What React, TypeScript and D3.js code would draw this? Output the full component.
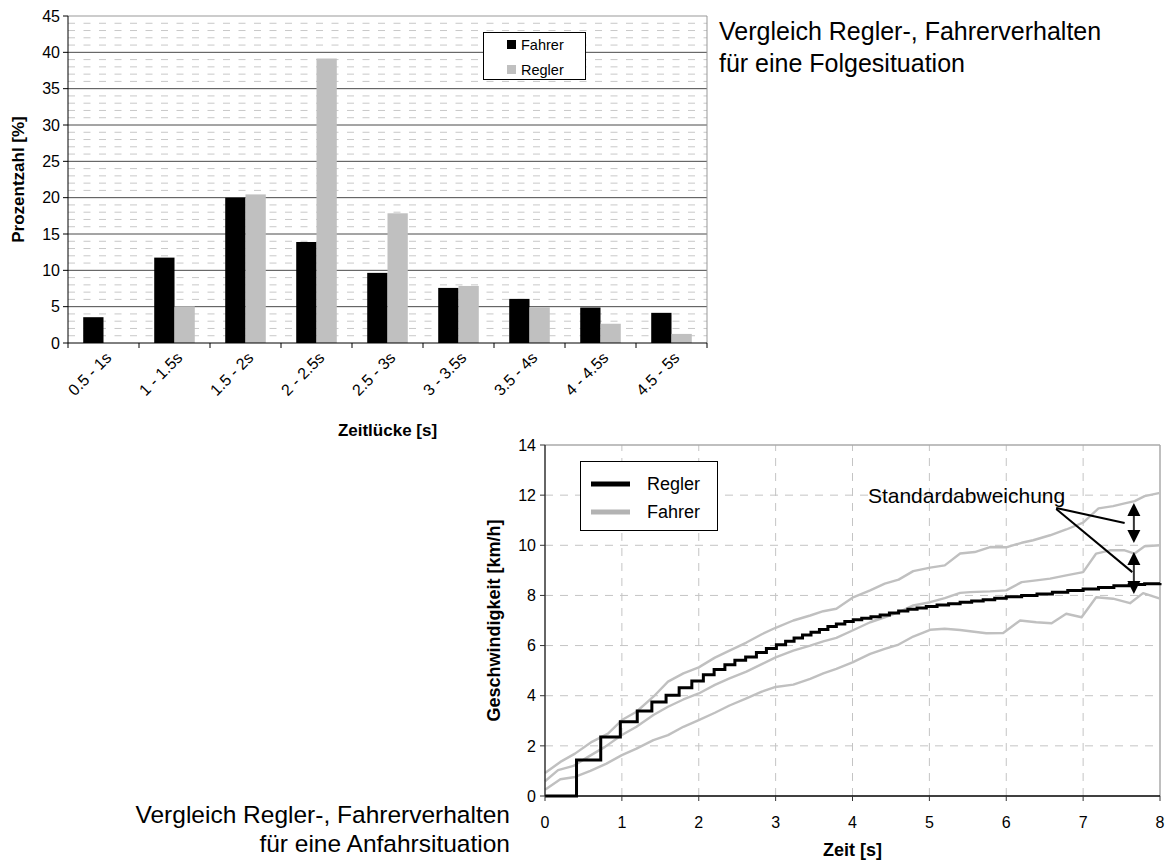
import React from 'react';
import * as d3 from 'd3';

// --- oberes Diagramm: Zeitlücken-Verteilung ---
const categories = ['0.5 - 1s', '1 - 1.5s', '1.5 - 2s', '2 - 2.5s', '2.5 - 3s', '3 - 3.5s', '3.5 - 4s', '4 - 4.5s', '4.5 - 5s'];
const fahrerPct = [3.55, 11.75, 20.0, 13.9, 9.65, 7.58, 6.07, 4.88, 4.15];
const reglerPct = [0, 5.05, 20.45, 39.15, 17.85, 7.85, 4.93, 2.65, 1.25];
const pctTicks = [0, 5, 10, 15, 20, 25, 30, 35, 40, 45];

// --- unteres Diagramm: Anfahrsituation, [Zeit s, Geschwindigkeit km/h] ---
const reglerSpeed: [number, number][] = [
  [0, 0], [0.41, 1.44], [0.725, 2.35], [0.98, 2.96], [1.2, 3.39], [1.39, 3.75], [1.575, 4.02],
  [1.745, 4.32], [1.91, 4.59], [2.06, 4.84], [2.2, 5.05], [2.34, 5.24], [2.47, 5.41], [2.61, 5.54],
  [2.75, 5.72], [2.88, 5.88], [3.01, 6.03], [3.13, 6.17], [3.24, 6.3], [3.35, 6.42], [3.46, 6.53],
  [3.57, 6.64], [3.68, 6.76], [3.79, 6.86], [3.9, 6.96], [4.01, 7.03], [4.12, 7.09], [4.24, 7.15],
  [4.36, 7.22], [4.48, 7.3], [4.6, 7.38], [4.72, 7.45], [4.84, 7.5], [4.96, 7.56], [5.1, 7.62],
  [5.25, 7.67], [5.4, 7.73], [5.55, 7.78], [5.7, 7.83], [5.85, 7.89], [6.0, 7.95], [6.2, 8.0],
  [6.4, 8.06], [6.6, 8.13], [6.8, 8.2], [7.0, 8.26], [7.2, 8.32], [7.4, 8.39], [7.6, 8.44],
  [7.8, 8.47], [8.0, 8.5],
];
const fahrerUpper: [number, number][] = [
  [0, 0.92], [0.2, 1.36], [0.39, 1.69], [0.61, 2.16], [0.82, 2.49], [1.0, 3.03], [1.19, 3.36],
  [1.41, 3.96], [1.6, 4.56], [1.8, 4.89], [2.0, 5.13], [2.21, 5.52], [2.4, 5.8], [2.62, 6.12],
  [2.82, 6.45], [3.0, 6.71], [3.23, 7.0], [3.45, 7.2], [3.62, 7.37], [3.79, 7.47], [4.0, 7.91],
  [4.23, 8.2], [4.42, 8.47], [4.6, 8.63], [4.79, 8.97], [5.01, 9.11], [5.2, 9.2], [5.4, 9.67],
  [5.59, 9.73], [5.79, 9.93], [6.0, 9.92], [6.2, 10.1], [6.35, 10.2], [6.57, 10.4], [6.78, 10.63],
  [7.0, 10.9], [7.2, 11.47], [7.39, 11.56], [7.54, 11.67], [7.67, 11.76], [7.8, 11.96], [8.0, 12.09],
];
const fahrerMean: [number, number][] = [
  [0, 0.59], [0.17, 1.03], [0.37, 1.2], [0.56, 1.56], [0.78, 1.96], [1.0, 2.43], [1.19, 2.76],
  [1.41, 3.23], [1.6, 3.56], [1.8, 3.85], [2.0, 4.09], [2.21, 4.43], [2.4, 4.69], [2.62, 4.96],
  [2.82, 5.26], [3.0, 5.53], [3.23, 5.8], [3.45, 6.0], [3.62, 6.17], [3.79, 6.31], [4.0, 6.6],
  [4.23, 6.93], [4.42, 7.13], [4.6, 7.33], [4.79, 7.6], [5.01, 7.73], [5.2, 7.89], [5.4, 8.1],
  [5.53, 8.13], [5.79, 8.16], [6.0, 8.2], [6.2, 8.53], [6.39, 8.6], [6.57, 8.67], [6.78, 8.8],
  [7.0, 8.93], [7.17, 9.67], [7.35, 9.8], [7.54, 9.8], [7.67, 9.67], [7.8, 9.96], [8.0, 10.0],
];
const fahrerLower: [number, number][] = [
  [0, 0.25], [0.2, 0.67], [0.39, 0.76], [0.59, 1.0], [0.8, 1.29], [1.0, 1.63], [1.19, 1.89],
  [1.41, 2.23], [1.6, 2.43], [1.8, 2.76], [2.0, 3.03], [2.21, 3.32], [2.4, 3.61], [2.62, 3.89],
  [2.82, 4.16], [3.0, 4.35], [3.23, 4.44], [3.45, 4.67], [3.62, 4.89], [3.79, 5.07], [4.0, 5.33],
  [4.23, 5.67], [4.42, 5.87], [4.6, 6.04], [4.79, 6.36], [5.01, 6.63], [5.2, 6.67], [5.4, 6.62],
  [5.53, 6.57], [5.74, 6.49], [5.96, 6.5], [6.18, 7.0], [6.39, 6.93], [6.59, 6.89], [6.78, 7.27],
  [6.98, 7.13], [7.17, 7.93], [7.39, 7.87], [7.61, 7.69], [7.78, 8.09], [8.0, 7.87],
];
const timeTicks = [0, 1, 2, 3, 4, 5, 6, 7, 8];
const speedTicks = [0, 2, 4, 6, 8, 10, 12, 14];

const FONT = 'Liberation Sans, Arial, Helvetica, sans-serif';
const GREY = '#c0c0c0';

const BarChart: React.FC = () => {
  const x = d3.scaleBand<string>().domain(categories).range([68, 707]).paddingInner(0.4286).paddingOuter(0.2143);
  const x1 = d3.scaleBand<string>().domain(['Fahrer', 'Regler']).range([0, x.bandwidth()]);
  const y = d3.scaleLinear().domain([0, 45]).range([343, 16]);
  const minor = d3.range(1, 45).filter(v => v % 5 !== 0);
  const [x0, xEnd] = x.range();
  const edges = d3.range(categories.length + 1).map(i => x0 + i * x.step());

  return (
    <g fontFamily={FONT}>
      {minor.map(v => (
        <line key={'m' + v} x1={x0} x2={xEnd} y1={y(v)} y2={y(v)} stroke="#c8c8c8" strokeDasharray="7 8.5" />
      ))}
      {pctTicks.slice(1, -1).map(v => (
        <line key={'g' + v} x1={x0} x2={xEnd} y1={y(v)} y2={y(v)} stroke="#4a4a4a" />
      ))}
      <line x1={x0} x2={xEnd} y1={y(45)} y2={y(45)} stroke="#999" />
      <line x1={xEnd} x2={xEnd} y1={y(45)} y2={y(0)} stroke="#999" />

      {categories.map((c, i) => (
        <g key={c} transform={`translate(${x(c)},0)`}>
          <rect x={x1('Fahrer')} y={y(fahrerPct[i])} width={x1.bandwidth()} height={y(0) - y(fahrerPct[i])} fill="#000" />
          <rect x={x1('Regler')} y={y(reglerPct[i])} width={x1.bandwidth()} height={y(0) - y(reglerPct[i])} fill={GREY} />
        </g>
      ))}

      <line x1={x0} x2={x0} y1={y(45)} y2={y(0)} stroke="#000" />
      <line x1={x0} x2={xEnd} y1={y(0)} y2={y(0)} stroke="#000" />
      {pctTicks.map(v => (
        <g key={'t' + v}>
          <line x1={x0 - 5} x2={x0} y1={y(v)} y2={y(v)} stroke="#000" />
          <text x={x0 - 8} y={y(v)} dy="0.36em" textAnchor="end" fontSize={16}>{v}</text>
        </g>
      ))}
      {edges.map((e, i) => (
        <line key={'e' + i} x1={e} x2={e} y1={y(0)} y2={y(0) + 5} stroke="#000" />
      ))}
      {categories.map(c => (
        <text key={'l' + c} transform={`translate(${(x(c) ?? 0) + x.bandwidth() / 2 + 1},${y(0) + 8}) rotate(-45)`}
          textAnchor="end" dy="0.7em" fontSize={16}>{c}</text>
      ))}
      <text x={(x0 + xEnd) / 2} y={436} textAnchor="middle" fontSize={17} fontWeight="bold">Zeitlücke [s]</text>
      <text transform={`translate(24,${(y(0) + y(45)) / 2}) rotate(-90)`} textAnchor="middle" fontSize={17} fontWeight="bold">Prozentzahl [%]</text>

      <rect x={483.5} y={32.5} width={102} height={47} fill="#fff" stroke="#000" />
      <rect x={507} y={40} width={9} height={9} fill="#000" />
      <text x={521} y={44.5} dy="0.36em" fontSize={14.5}>Fahrer</text>
      <rect x={507} y={65} width={9} height={9} fill={GREY} />
      <text x={521} y={69.5} dy="0.36em" fontSize={14.5}>Regler</text>

      <text x={719} y={40} fontSize={25}>Vergleich Regler-, Fahrerverhalten</text>
      <text x={719} y={72} fontSize={25}>für eine Folgesituation</text>
    </g>
  );
};

const LineChart: React.FC = () => {
  const x = d3.scaleLinear().domain([0, 8]).range([545, 1160]);
  const y = d3.scaleLinear().domain([0, 14]).range([796, 445]);
  const line = d3.line<[number, number]>().x(d => x(d[0])).y(d => y(d[1]));
  const step = d3.line<[number, number]>().x(d => x(d[0])).y(d => y(d[1])).curve(d3.curveStepAfter);
  const ax = x(7.66);
  const arrows: [number, number][] = [[11.69, 10.09], [9.73, 8.06]];

  return (
    <g fontFamily={FONT}>
      {timeTicks.slice(1, -1).map(t => (
        <line key={'vx' + t} x1={x(t)} x2={x(t)} y1={y(0)} y2={y(14)} stroke="#c4c4c4" strokeDasharray="8 7" />
      ))}
      {speedTicks.slice(1, -1).map(v => (
        <line key={'hy' + v} x1={x(0)} x2={x(8)} y1={y(v)} y2={y(v)} stroke="#c4c4c4" strokeDasharray="8 7" />
      ))}
      <line x1={x(0)} x2={x(8)} y1={y(14)} y2={y(14)} stroke="#aaa" strokeWidth={1.5} />
      <line x1={x(8)} x2={x(8)} y1={y(14)} y2={y(0)} stroke="#aaa" strokeWidth={1.5} />

      {[fahrerUpper, fahrerMean, fahrerLower].map((s, i) => (
        <path key={'f' + i} d={line(s) ?? ''} fill="none" stroke={GREY} strokeWidth={2.4} strokeLinejoin="round" />
      ))}
      <path d={step(reglerSpeed) ?? ''} fill="none" stroke="#000" strokeWidth={3} />

      <line x1={x(0)} x2={x(0)} y1={y(14)} y2={y(0)} stroke="#333" strokeWidth={1.5} />
      <line x1={x(0)} x2={x(8)} y1={y(0)} y2={y(0)} stroke="#000" strokeWidth={1.5} />
      {speedTicks.map(v => (
        <g key={'ty' + v}>
          <line x1={x(0) - 5} x2={x(0)} y1={y(v)} y2={y(v)} stroke="#333" />
          <text x={x(0) - 9} y={y(v)} dy="0.36em" textAnchor="end" fontSize={16}>{v}</text>
        </g>
      ))}
      {timeTicks.map(t => (
        <g key={'tx' + t}>
          <line x1={x(t)} x2={x(t)} y1={y(0)} y2={y(0) + 5} stroke="#333" />
          <text x={x(t)} y={y(0) + 26} dy="0.36em" textAnchor="middle" fontSize={16}>{t}</text>
        </g>
      ))}
      <text x={(x(0) + x(8)) / 2} y={856} textAnchor="middle" fontSize={18} fontWeight="bold">Zeit [s]</text>
      <text transform={`translate(500,${(y(0) + y(14)) / 2}) rotate(-90)`} textAnchor="middle" fontSize={18} fontWeight="bold">Geschwindigkeit [km/h]</text>

      <rect x={580.5} y={461.5} width={137} height={69} fill="#fff" stroke="#000" />
      <line x1={591} x2={630} y1={484} y2={484} stroke="#000" strokeWidth={5} />
      <text x={647} y={484} dy="0.36em" fontSize={18}>Regler</text>
      <line x1={591} x2={630} y1={512} y2={512} stroke="#b3b3b3" strokeWidth={5} />
      <text x={647} y={512} dy="0.36em" fontSize={18}>Fahrer</text>

      <text x={x(4.2)} y={y(11.69)} fontSize={21}>Standardabweichung</text>
      <line x1={x(6.65)} y1={y(11.49)} x2={x(7.54)} y2={y(10.89)} stroke="#000" strokeWidth={2} />
      <line x1={x(6.65)} y1={y(11.45)} x2={x(7.64)} y2={y(8.93)} stroke="#000" strokeWidth={2} />
      {arrows.map(([a, b], i) => (
        <g key={'a' + i}>
          <line x1={ax} x2={ax} y1={y(a) + 10} y2={y(b) - 10} stroke="#333" strokeWidth={2} />
          <path d={`M${ax},${y(a)} l-6.5,13 h13 z`} fill="#000" />
          <path d={`M${ax},${y(b)} l-6.5,-13 h13 z`} fill="#000" />
        </g>
      ))}

      <text x={510} y={823} textAnchor="end" fontSize={24.5}>Vergleich Regler-, Fahrerverhalten</text>
      <text x={510} y={852} textAnchor="end" fontSize={24.5}>für eine Anfahrsituation</text>
    </g>
  );
};

const App: React.FC = () => (
  <svg width={1168} height={862} style={{ position: 'absolute', left: 0, top: 0, background: '#fff' }}>
    <BarChart />
    <LineChart />
  </svg>
);

export default App;
